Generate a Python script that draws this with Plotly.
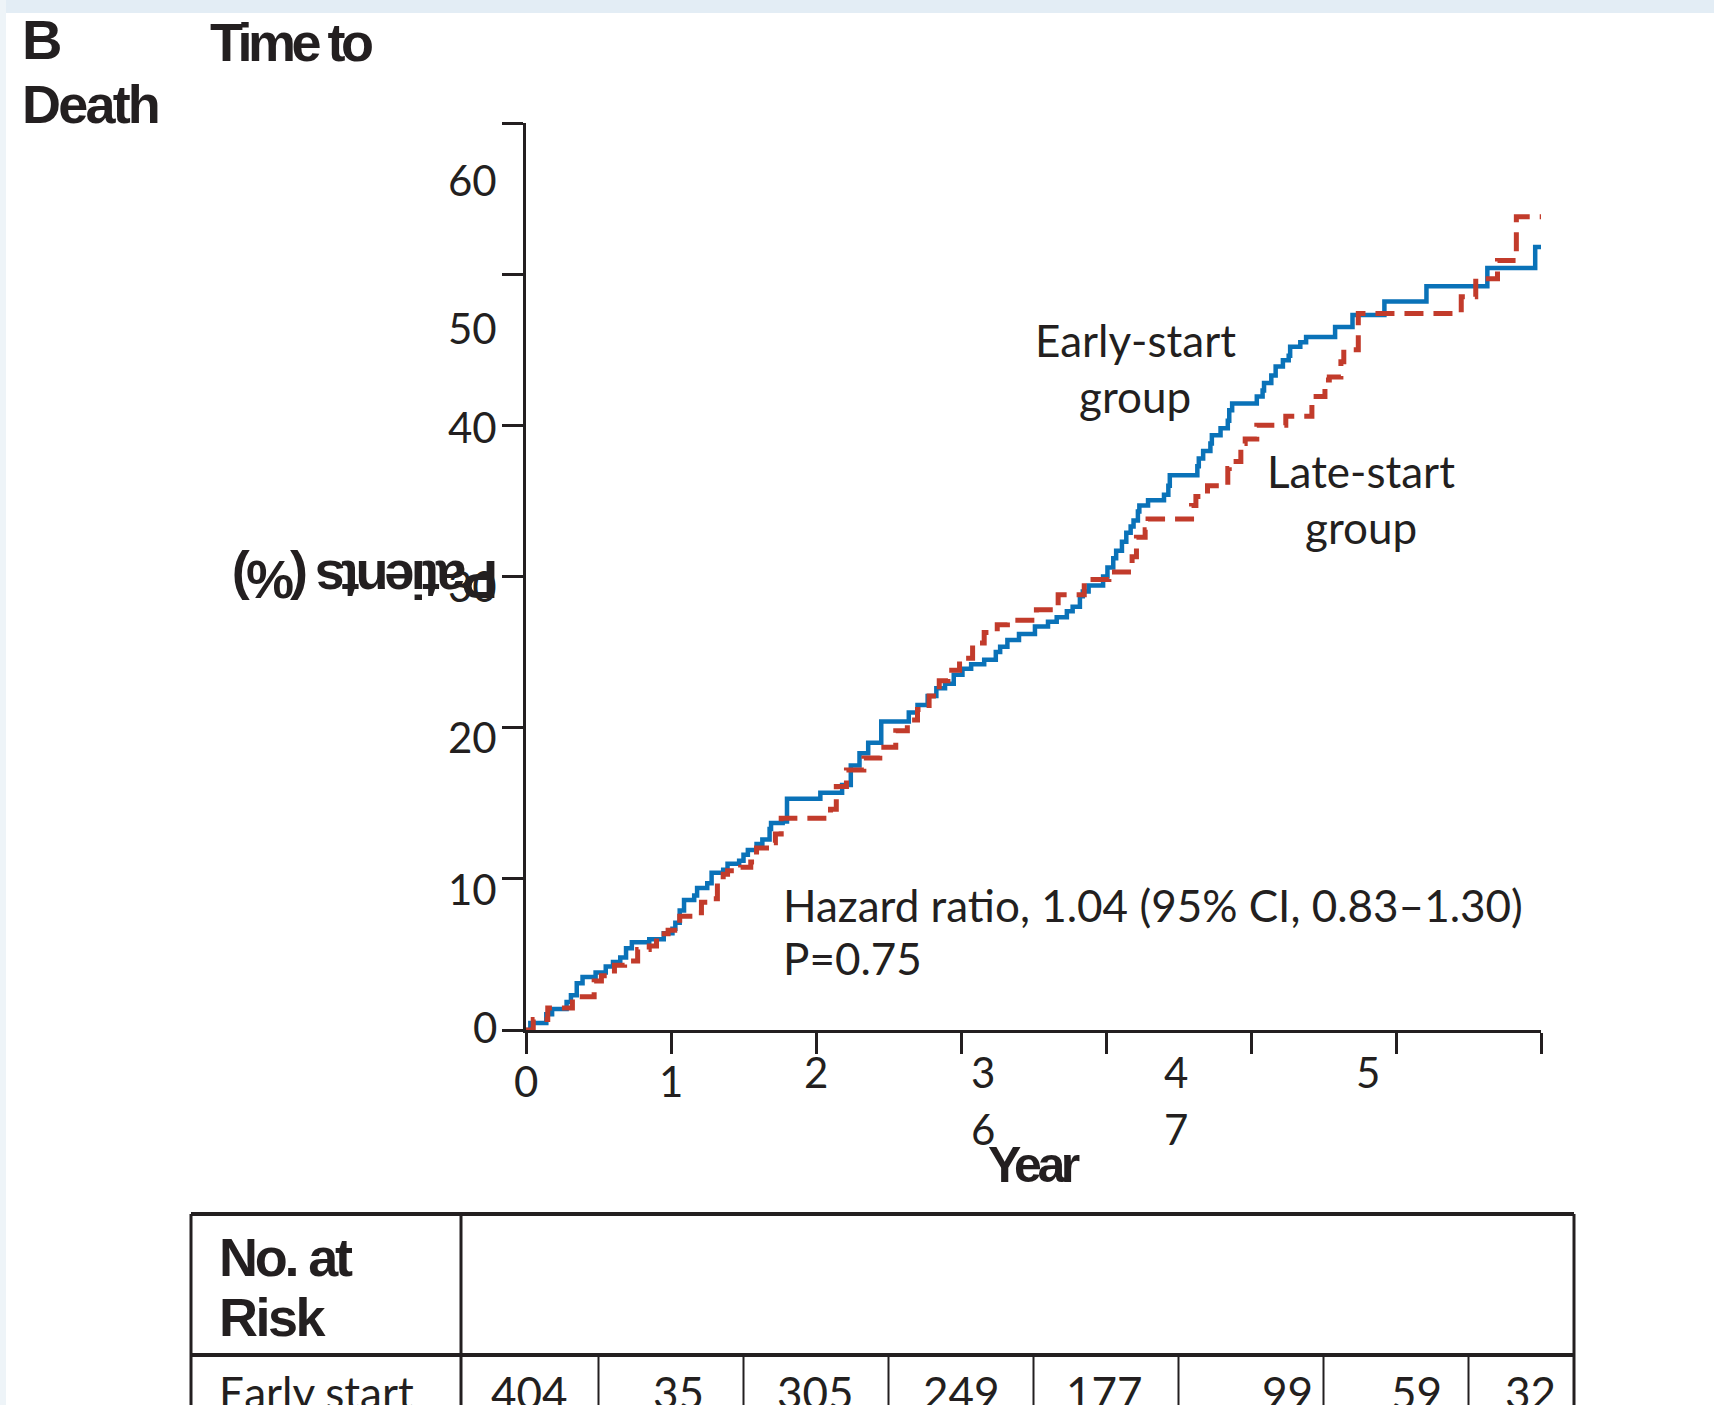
import plotly.graph_objects as go

# ---------------- data ----------------
years = [0, 1, 2, 3, 4, 5, 6, 7]
y_ticks = [0, 10, 20, 30, 40, 50, 60]

early_t = [0, 0.03, 0.14, 0.18, 0.28, 0.31, 0.35, 0.39, 0.48, 0.55,
           0.60, 0.65, 0.69, 0.73, 0.85, 0.95, 1.01, 1.03, 1.06, 1.09,
           1.16, 1.18, 1.25, 1.28, 1.36, 1.39, 1.47, 1.50, 1.53, 1.59,
           1.63, 1.68, 1.69, 1.77, 1.80, 2.03, 2.18, 2.24, 2.30, 2.36,
           2.45, 2.64, 2.70, 2.77, 2.83, 2.89, 2.95, 3.01, 3.07, 3.16,
           3.24, 3.27, 3.32, 3.40, 3.51, 3.60, 3.66, 3.73, 3.77, 3.82,
           3.84, 3.88, 3.98, 4.01, 4.05, 4.07, 4.11, 4.14, 4.17, 4.19,
           4.22, 4.23, 4.29, 4.40, 4.43, 4.44, 4.63, 4.64, 4.67, 4.72,
           4.73, 4.79, 4.84, 4.85, 4.87, 5.04, 5.08, 5.09, 5.14, 5.17,
           5.22, 5.26, 5.27, 5.34, 5.38, 5.58, 5.70, 5.92, 6.21, 6.63,
           6.96, 7.0]
early_pct = [0, 0.46, 1.04, 1.39, 1.85, 2.3, 3.1, 3.5, 3.8, 4.2,
             4.5, 4.8, 5.4, 5.8, 6.0, 6.4, 6.7, 7.1, 7.9, 8.6,
             8.9, 9.4, 9.7, 10.4, 10.6, 11.0, 11.2, 11.6, 11.9, 12.3,
             12.6, 13.3, 13.7, 13.8, 15.3, 15.7, 16.2, 17.5, 18.3, 19.0,
             20.4, 21.0, 21.5, 22.1, 22.6, 22.9, 23.5, 23.9, 24.2, 24.5,
             25.0, 25.35, 25.8, 26.2, 26.7, 27.0, 27.3, 27.7, 28.0, 28.7,
             29.0, 29.4, 30.0, 30.6, 31.2, 31.7, 32.3, 32.9, 33.3, 33.7,
             34.3, 34.7, 35.05, 35.4, 36.0, 36.7, 37.3, 37.8, 38.3, 38.8,
             39.35, 39.8, 40.3, 41.0, 41.45, 41.9, 42.3, 42.8, 43.3, 43.9,
             44.3, 44.6, 45.2, 45.5, 45.85, 46.5, 47.3, 48.2, 49.2, 50.4,
             51.8, 51.8]

late_t = [0, 0.05, 0.15, 0.32, 0.47, 0.52, 0.61, 0.68, 0.77, 0.85,
          0.90, 0.98, 1.06, 1.13, 1.21, 1.28, 1.32, 1.36, 1.39, 1.48,
          1.55, 1.59, 1.68, 1.72, 1.76, 2.10, 2.14, 2.21, 2.33, 2.44,
          2.55, 2.63, 2.70, 2.78, 2.85, 2.91, 2.99, 3.08, 3.16, 3.25,
          3.32, 3.52, 3.67, 3.85, 4.02, 4.18, 4.21, 4.27, 4.29, 4.59,
          4.62, 4.70, 4.84, 4.85, 4.93, 4.96, 5.04, 5.24, 5.42, 5.43,
          5.51, 5.54, 5.62, 5.64, 5.74, 6.45, 6.55, 6.70, 6.83, 7.0]
late_pct = [0, 0.69, 1.46, 2.2, 3.24, 3.59, 4.28, 4.56, 5.32, 5.56,
            6.37, 6.6, 7.52, 7.75, 8.45, 8.68, 9.72, 10.3, 10.53, 10.76,
            11.11, 12.04, 12.38, 12.96, 14.0, 14.6, 16.1, 17.2, 18.0, 18.7,
            19.8, 20.5, 21.2, 22.1, 23.1, 23.8, 24.6, 25.6, 26.3, 26.8,
            27.1, 27.8, 28.8, 29.8, 30.3, 31.3, 32.6, 33.1, 33.8, 34.7,
            35.3, 36.0, 37.15, 37.6, 38.8, 39.1, 40.0, 40.6, 41.45, 41.9,
            43.0, 43.2, 44.2, 45.0, 47.4, 48.5, 49.7, 50.9, 53.8, 53.8]

at_risk_label = "Early start"
at_risk_early = [404, 35, 305, 249, 177, 99, 59, 32]

# ---------------- layout helpers ----------------
W, H = 1714, 1405
L, R, T, B = 526, 1541, 123, 1030
INK = "#231f20"
BLUE = "#0a72b8"
RED = "#c23b2b"
GILL = "Lato, 'Open Sans', sans-serif"
BOLD = "'Liberation Sans', Arial, Helvetica, sans-serif"


def pxx(x):
    return (x - L) / (R - L)


def pxy(y):
    return (B - y) / (B - T)


def tight(s, ls):
    return '<span style="letter-spacing:%spx"><b>%s</b></span>' % (ls, s)


fig = go.Figure()
fig.add_trace(go.Scatter(x=early_t, y=early_pct, mode="lines", line_shape="hv",
                         line=dict(color=BLUE, width=4.5), name="Early-start group",
                         showlegend=False))
fig.add_trace(go.Scatter(x=late_t, y=late_pct, mode="lines", line_shape="hv",
                         line=dict(color=RED, width=5, dash="19px,10px"),
                         name="Late-start group", showlegend=False))

ann = []


def text(x, y, s, size=44, family=GILL, xanchor="left", angle=0):
    ann.append(dict(x=pxx(x), y=pxy(y), xref="paper", yref="paper", text=s,
                    showarrow=False, xanchor=xanchor, yanchor="middle",
                    textangle=angle, font=dict(family=family, size=size, color=INK)))


# y tick labels (label offsets in px relative to nominal tick)
y_label_shift = [3, -10, -9, -9, -2, -54, -57]
for v, s in zip(y_ticks, y_label_shift):
    ann.append(dict(x=0, xref="paper", xanchor="right", xshift=-27,
                    y=v, yref="y", yanchor="middle", yshift=s,
                    text=str(v), showarrow=False,
                    font=dict(family=GILL, size=42, color=INK)))

# x tick labels (displaced as in the figure)
x_label_pos = [0, 1, 2, 3.15, 4.48, 5.81, 3.15, 4.48]
x_label_py = [1081, 1081, 1072, 1072, 1072, 1072, 1129, 1129]
for yr, xp, ypx in zip(years, x_label_pos, x_label_py):
    ann.append(dict(x=xp, xref="x", xanchor="center", y=pxy(ypx), yref="paper",
                    yanchor="middle", text=str(yr), showarrow=False,
                    font=dict(family=GILL, size=42, color=INK)))

# titles
text(20, 40, tight("B", -2), size=56, family=BOLD)
text(208, 42, tight("Time to", -4.5), size=54, family=BOLD)
text(20, 104, tight("Death", -2.8), size=54, family=BOLD)
text(1034, 1165, tight("Year", -4.5), size=50, family=BOLD, xanchor="center")
text(366, 580, tight("Patients (%)", -3.9), size=54, family=BOLD, xanchor="center", angle=180)

# curve labels
text(1135, 340, "Early-start", size=44, xanchor="center")
text(1135, 396, "group", size=44, xanchor="center")
text(1361, 471, "Late-start", size=44, xanchor="center")
text(1361, 527, "group", size=44, xanchor="center")
text(781, 905, "Hazard ratio, 1.04 (95% CI, 0.83\u20131.30)", size=44)
text(781, 958, "P=0.75", size=44)

# number at risk table
text(217, 1257, tight("No. at", -3.2), size=54, family=BOLD)
text(217, 1317, tight("Risk", -2.5), size=54, family=BOLD)
text(217, 1392, at_risk_label, size=44)
risk_shift = [3, 7, -1, 0, -2, 36, 20, -11]
for yr, n, s in zip(years, at_risk_early, risk_shift):
    ann.append(dict(x=yr, xref="x", xanchor="center", xshift=s, y=pxy(1392), yref="paper",
                    yanchor="middle", text=str(n), showarrow=False,
                    font=dict(family=GILL, size=44, color=INK)))

shapes = []


def line(x0, y0, x1, y1, w=3, xref="paper"):
    shapes.append(dict(type="line", xref=xref, yref="paper",
                       x0=x0 if xref == "x" else pxx(x0), x1=x1 if xref == "x" else pxx(x1),
                       y0=pxy(y0), y1=pxy(y1), line=dict(color=INK, width=w)))


line(191, 1214, 1574, 1214, 4)
line(191, 1214, 191, 1420, 3)
line(1574, 1214, 1574, 1420, 3)
line(191, 1355, 1574, 1355, 4)
line(461, 1214, 461, 1420, 3)
for k in range(7):
    line(k + 0.5, 1355, k + 0.5, 1420, 2, xref="x")

# faint graph-paper strips at top and left edge
shapes.append(dict(type="rect", xref="paper", yref="paper", x0=pxx(0), x1=pxx(W),
                   y0=pxy(13), y1=pxy(0), fillcolor="#e3edf5", line=dict(width=0), layer="below"))
shapes.append(dict(type="rect", xref="paper", yref="paper", x0=pxx(0), x1=pxx(6),
                   y0=pxy(H), y1=pxy(0), fillcolor="#eef4f8", line=dict(width=0), layer="below"))

axis_common = dict(showline=True, linecolor=INK, linewidth=3, ticks="outside",
                   ticklen=21, tickwidth=3, tickcolor=INK, showgrid=False,
                   zeroline=False, showticklabels=False, fixedrange=True)

fig.update_layout(
    width=W, height=H, autosize=False,
    margin=dict(l=L, r=W - R, t=T, b=H - B, pad=0),
    paper_bgcolor="white", plot_bgcolor="white",
    xaxis=dict(range=[0, 7], tickvals=years, **axis_common),
    yaxis=dict(range=[0, 60], tickvals=y_ticks, **axis_common),
    annotations=ann, shapes=shapes, showlegend=False,
)

fig.write_html("out.html")
